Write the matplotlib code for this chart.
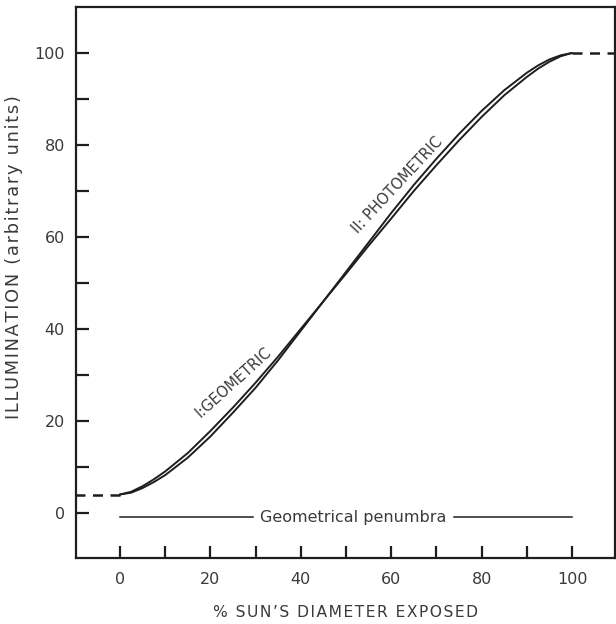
import numpy as np
import matplotlib
matplotlib.use("Agg")
import matplotlib.pyplot as plt

### Données
diam_exposed = [0, 2.5, 5, 7.5, 10, 15, 20, 25, 30, 35, 40, 45, 50, 55, 60, 65, 70, 75, 80, 85, 90, 92.5, 95, 97.5, 100]
geometric = [4.0, 4.6, 5.8, 7.3, 9.0, 13.0, 17.8, 22.9, 28.3, 34.0, 40.0, 46.0, 52.0, 58.1, 64.0, 70.0, 75.6, 81.0, 86.1, 90.8, 94.8, 96.6, 98.1, 99.3, 100.0]
photometric = [4.0, 4.4, 5.4, 6.7, 8.2, 12.0, 16.6, 21.8, 27.2, 33.2, 39.6, 46.0, 52.4, 58.8, 65.2, 71.3, 77.0, 82.4, 87.4, 91.9, 95.7, 97.3, 98.6, 99.5, 100.0]
plateau_low = 4.0
plateau_high = 100.0
xticks_major = [0, 20, 40, 60, 80, 100]
yticks_major = [0, 20, 40, 60, 80, 100]

ink = "#1e1e1e"
txt = "#3a3a3a"
plt.rcParams['font.family'] = ['DejaVu Sans']

def espace(s):
    # petit espacement entre les lettres, comme sur l'original
    return "\u200a".join(s)

fig = plt.figure(figsize=(6.16, 6.24), dpi=100)
ax = fig.add_axes([0.1234, 0.1058, 0.875, 0.883])

### Courbes
ax.plot(diam_exposed, geometric, color=ink, lw=1.4, solid_capstyle="round")
ax.plot(diam_exposed, photometric, color=ink, lw=1.4, solid_capstyle="round")

### Prolongements en pointillés
ax.plot([-10, 0], [plateau_low, plateau_low], color=ink, lw=1.8, dashes=(4, 3))
ax.plot([100, 110], [plateau_high, plateau_high], color=ink, lw=1.8, dashes=(4, 3))

### Pénombre géométrique
ax.plot([0, 29.5], [-0.9, -0.9], color=ink, lw=1.1)
ax.plot([74, 100], [-0.9, -0.9], color=ink, lw=1.1)
ax.text(51.5, -0.9, "Geometrical penumbra", ha="center", va="center",
        fontsize=11.5, color=txt)

### Étiquettes des courbes
ax.text(25.2, 28.3, "I:GEOMETRIC", rotation=42, ha="center", va="center",
        fontsize=10.5, color=txt, rotation_mode="anchor")
ax.text(61.3, 71.3, "II: PHOTOMETRIC", rotation=47, ha="center", va="center",
        fontsize=10.5, color=txt, rotation_mode="anchor")

### Axes
ax.set_xlim(-9.7, 109.5)
ax.set_ylim(-9.8, 110)
ax.set_xticks(xticks_major)
ax.set_xticks(np.arange(0, 101, 10), minor=True)
ax.set_yticks(yticks_major)
ax.set_yticks(np.arange(0, 101, 10), minor=True)
ax.tick_params(axis="both", which="both", direction="in", length=9, width=1.6,
               color=ink, labelsize=11.5, labelcolor=txt)
ax.tick_params(axis="x", which="major", pad=10)
ax.tick_params(axis="y", which="major", pad=8)
ax.tick_params(top=False, right=False)
for s in ax.spines.values():
    s.set_color(ink)
    s.set_linewidth(1.6)

ax.set_xlabel(espace("% SUN\u2019S DIAMETER EXPOSED"), fontsize=11.2, color=txt)
ax.xaxis.set_label_coords(0.5, -0.085)
ax.set_ylabel(espace("ILLUMINATION (arbitrary units)"), fontsize=12.8, color=txt)
ax.yaxis.set_label_coords(-0.098, 0.546)

fig.savefig("out.png", dpi=100)
